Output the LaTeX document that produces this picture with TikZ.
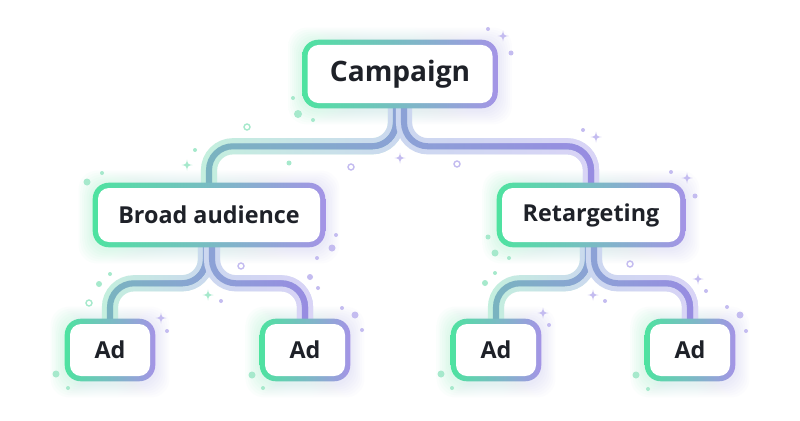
\documentclass[tikz,border=0pt]{standalone}
\usepackage{fontspec}
\setmainfont{Open Sans}
\usetikzlibrary{
  calc,
  fadings,
}
\definecolor{boxgreen}{RGB}{78,227,160}
\definecolor{boxpurple}{RGB}{164,148,230}
\definecolor{inkdark}{RGB}{30,33,40}
\definecolor{bandmint}{RGB}{196,240,222}
\definecolor{bandblue}{RGB}{204,216,240}
\definecolor{bandlav}{RGB}{218,212,247}
\definecolor{wireteal}{RGB}{122,180,192}
\definecolor{wireblue}{RGB}{140,162,214}
\definecolor{wirepurple}{RGB}{152,140,226}
\definecolor{dotmint}{RGB}{166,233,204}
\definecolor{dotlav}{RGB}{196,188,240}
\newlength\pxu
\setlength\pxu{0.025cm}
\pgfdeclarelayer{glowlayer}
\pgfdeclarelayer{wirelayer}
\pgfdeclarelayer{ringlayer}
\pgfsetlayers{glowlayer,wirelayer,ringlayer,main}
\tikzfading[name=fadein, left color=transparent!100, right color=transparent!0]
\tikzset{
  treebox/.style={
    rectangle, fill=white, rounded corners=7.8pt, inner sep=0pt,
    text=inkdark, font=\bfseries\fontsize{16.6}{20}\selectfont
  },
  rootbox/.style={treebox, minimum width=185\pxu, minimum height=58\pxu,
    font=\bfseries\fontsize{20}{24}\selectfont},
  midbox/.style={treebox, minimum height=54\pxu},
  adbox/.style={treebox, minimum width=80\pxu, minimum height=52\pxu},
  wireleft/.style={
    rounded corners=17pt, line width=4.3pt, draw=wireteal,
    preaction={draw=bandmint, line width=11.5pt},
    preaction={draw=bandblue, line width=11.5pt, path fading=fadein},
    postaction={draw=wireblue, path fading=fadein}
  },
  wireright/.style={
    rounded corners=17pt, line width=4.3pt, draw=wireblue,
    preaction={draw=bandblue, line width=11.5pt},
    preaction={draw=bandlav, line width=11.5pt, path fading=fadein},
    postaction={draw=wirepurple, path fading=fadein}
  },
  sparkle/.pic={
    \fill (0,-5.5) .. controls (0.8,-0.8) .. (5.5,0) .. controls (0.8,0.8) .. (0,5.5)
      .. controls (-0.8,0.8) .. (-5.5,0) .. controls (-0.8,-0.8) .. (0,-5.5) -- cycle;
  },
}

\begin{document}
\begin{tikzpicture}[x=0.025cm, y=-0.025cm]

  \begin{pgfonlayer}{glowlayer}
    \fill[white] (0,0) rectangle (800,420);
  \end{pgfonlayer}
  \useasboundingbox (0,0) rectangle (800,420);

  % ── Boxes ──
  \node[rootbox] (camp) at (400,74) {Campaign};
  \node[midbox, minimum width=222\pxu] (broad) at (209,215) {Broad audience};
  \node[midbox, minimum width=178\pxu] (retarget) at (591,215) {Retargeting};
  \node[adbox] (adA) at (110,350) {Ad};
  \node[adbox] (adB) at (305,350) {Ad};
  \node[adbox] (adC) at (496,350) {Ad};
  \node[adbox] (adD) at (690,350) {Ad};

  % ── Gradient rings and glow ──
  \foreach \n in {camp,broad,retarget,adA,adB,adC,adD} {
    \begin{pgfonlayer}{ringlayer}
      \shade[left color=boxgreen, right color=boxpurple, rounded corners=11.4pt]
        ($(\n.south west)+(-5,5)$) rectangle ($(\n.north east)+(5,-5)$);
    \end{pgfonlayer}
    \begin{pgfonlayer}{glowlayer}
      \foreach \g in {7,9,...,19}
        \shade[left color=boxgreen, right color=boxpurple, opacity=0.028, rounded corners=13pt]
          ($(\n.south west)+(-\g,\g+2)$) rectangle ($(\n.north east)+(\g,-\g+2)$);
    \end{pgfonlayer}
  }

  % ── Connectors ──
  \begin{pgfonlayer}{wirelayer}
    \draw[wireleft]  ($(camp.south)+(-4,0)$) -- ++(0,43) -| (broad.north);
    \draw[wireright] ($(camp.south)+(4,0)$)  -- ++(0,43) -| (retarget.north);
    \draw[wireleft]  ($(broad.south)+(-3,0)$) -- ++(0,41) -| (adA.north);
    \draw[wireright] ($(broad.south)+(3,0)$)  -- ++(0,41) -| (adB.north);
    \draw[wireleft]  ($(retarget.south)+(-3,0)$) -- ++(0,41) -| (adC.north);
    \draw[wireright] ($(retarget.south)+(3,0)$)  -- ++(0,41) -| (adD.north);
  \end{pgfonlayer}

  % ── Sparkles ──
  \foreach \x/\y/\r in {293/98/2, 298/114/4, 313/120/2, 195/150/2, 289/163/2.5,
      87/182/3.5, 102/173/2, 488/237/2.5, 495/253/3.5, 509/258/2, 110/274/2,
      99/284/3, 495/273/2, 485/283/3, 56/374/3.5, 68/388/2, 252/375/3.5,
      263/388/2, 441/374/3.5, 452/388/2, 636/375/3.5, 648/389/2}
    \fill[dotmint] (\x,\y) circle (\r);
  \foreach \x/\y/\r in {488/29/2, 511/53/2.5, 336/235/2, 332/248/3.5, 317/258/2,
      583/130/2, 671/172/2, 695/196/2.5, 221/301/2, 310/277/3, 318/288/2,
      167/331/2, 342/308/2, 355/315/3.5, 362/330/2, 605/301/2, 706/291/2,
      549/325/2, 727/307/2, 740/315/3.5, 746/331/2}
    \fill[dotlav] (\x,\y) circle (\r);
  \foreach \x/\y in {247/127, 89/303}
    \draw[dotmint, line width=1pt] (\x,\y) circle (3);
  \foreach \x/\y in {351/167, 457/164, 241/266, 630/264}
    \draw[dotlav, line width=1pt] (\x,\y) circle (3);
  \foreach \x/\y in {187/165, 208/295}
    \pic[color=dotmint] at (\x,\y) {sparkle};
  \foreach \x/\y in {503/36, 400/158, 596/137, 687/178, 161/318, 593/295,
      698/279, 543/313}
    \pic[color=dotlav] at (\x,\y) {sparkle};

\end{tikzpicture}
\end{document}
